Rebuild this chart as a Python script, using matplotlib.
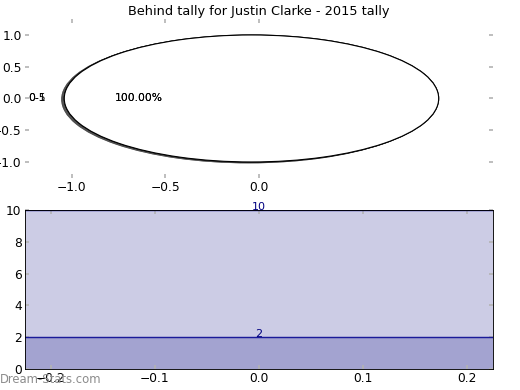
import matplotlib
matplotlib.use('Agg')
import matplotlib.pyplot as plt

# tally data
pie_labels = ['0-1', '0-5']
pie_values = [1, 1]
tally_values = [10, 2]
title = 'Behind tally for Justin Clarke - 2015 tally'

plt.rcParams['font.size'] = 11.5
plt.rcParams['font.family'] = 'DejaVu Sans'

fig = plt.figure(figsize=(6.5, 4.875), dpi=80)
ax1 = fig.add_axes([0.048, 0.544, 0.9, 0.407])
ax2 = fig.add_axes([0.048, 0.054, 0.9, 0.407])

# pie (drawn once per label, both full circles)
for lab, v in zip(pie_labels, pie_values):
    ax1.pie([v], labels=[lab], explode=[0.04], colors=['white'],
            autopct='%1.2f%%',
            shadow={'ox': -0.012, 'oy': -0.012, 'shade': 0.7, 'alpha': 0.8},
            textprops={'fontsize': 9.7},
            wedgeprops={'edgecolor': 'black', 'linewidth': 1})
ax1.set_aspect('auto')
ax1.set_xlim(-1.25, 1.25)
ax1.set_ylim(-1.25, 1.25)
ax1.set_xticks([-1.0, -0.5, 0.0])
ax1.set_yticks([-1.0, -0.5, 0.0, 0.5, 1.0])
ax1.set_title(title, fontsize=11.6, pad=4)

# tally areas
xs = [-0.225, 0.225]
for v in tally_values:
    ax2.fill_between(xs, 0, v, color='navy', alpha=0.2, linewidth=0)
    ax2.plot(xs, [v, v], color='#1a1a99', linewidth=1.3)
    ax2.text(0, v, str(v), color='navy', ha='center', va='baseline', fontsize=10)
ax2.set_xlim(-0.225, 0.225)
ax2.set_ylim(0, 10)
ax2.set_xticks([-0.2, -0.1, 0.0, 0.1, 0.2])
ax2.set_yticks([0, 2, 4, 6, 8, 10])

for ax in (ax1, ax2):
    ax.tick_params(direction='in', length=4, color='0.7', width=1.5,
                   top=True, right=True, labelsize=11, pad=3)

fig.text(0.0, 0.01, 'Dream-Stats.com', color='0.55', fontsize=10.5, ha='left', va='bottom')

fig.savefig('out.png', dpi=80)
